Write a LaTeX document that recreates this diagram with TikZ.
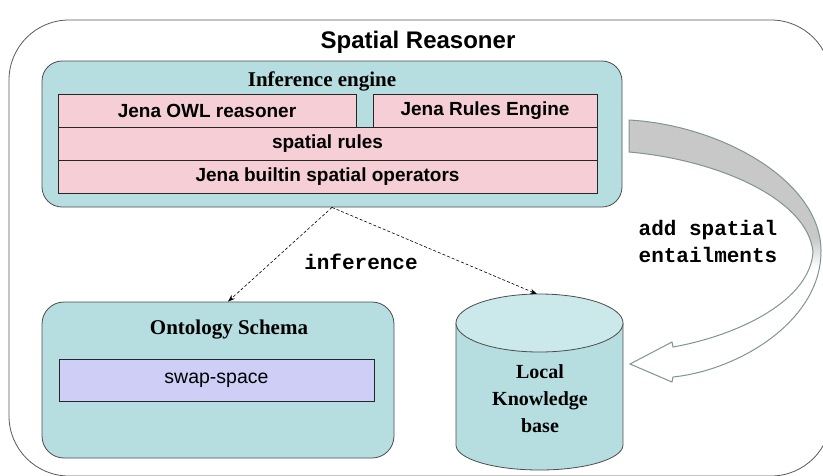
\documentclass[tikz,border=0pt]{standalone}
\usepackage{fontspec}
\setmainfont{Liberation Serif}
\setsansfont{Liberation Sans}
\setmonofont{Liberation Mono}
\usetikzlibrary{arrows.meta}
\definecolor{tealfill}{RGB}{182,221,223}
\definecolor{cyltop}{RGB}{203,233,235}
\definecolor{pinkcell}{RGB}{245,206,214}
\definecolor{swapfill}{RGB}{206,206,246}
\definecolor{arrowgray}{RGB}{200,200,200}
\definecolor{arrowline}{RGB}{128,148,148}
\tikzset{
  cell/.style={draw=black!85, fill=pinkcell, minimum height=33, inner sep=0pt, font=\sffamily\bfseries\fontsize{19}{21}\selectfont},
  tealbox/.style={draw=black!70, fill=tealfill, rounded corners=20, line width=0.8pt, inner sep=0pt},
  serifbold/.style={font=\bfseries\fontsize{21}{27}\selectfont, align=center},
  monolabel/.style={font=\ttfamily\bfseries\fontsize{21}{27}\selectfont, align=center},
  infer/.style={dashed, dash pattern=on 3pt off 2pt, line width=0.6pt, -{Stealth[length=7pt,width=5pt]}}
}
\begin{document}
\begin{tikzpicture}[x=1pt, y=-1pt]
	\useasboundingbox (0,0) rectangle (823,475);
	\clip (0,0) rectangle (823,475);
	
	\draw [black!65, line width=0.8pt, rounded corners=60] (9,20) rectangle (831,476);
	\node (title) [font=\sffamily\bfseries\fontsize{24}{28}\selectfont] at (418,42) {Spatial Reasoner};
	
	\node (engine) [tealbox, minimum width=580, minimum height=146] at (332,134) {};
	\node (enginelabel) [serifbold] at (322,81) {Inference engine};
	\node (owl) [cell, minimum width=298] at (207,110.5) {Jena OWL reasoner};
	\node (rules) [cell, minimum width=224] at (485,110.5) {Jena Rules Engine};
	\node (spatial) [cell, minimum width=539] at (327.5,143.5) {spatial rules};
	\node (builtin) [cell, minimum width=539] at (327.5,176.5) {Jena builtin spatial operators};
	
	\node (onto) [tealbox, minimum width=352, minimum height=156, rounded corners=22] at (218,380) {};
	\node (ontolabel) [serifbold] at (229,330) {Ontology Schema};
	\node (swap) [draw=black!85, fill=swapfill, minimum width=315, minimum height=42, font=\sffamily\fontsize{19.5}{22}\selectfont] at (216.5,380) {swap-space};
	
	\fill [tealfill] (456,323) rectangle (623,445);
	\fill [tealfill] (539.5,445) ellipse [x radius=83.5, y radius=25];
	\draw [black!70, line width=0.8pt] (456,323) -- (456,445) arc [start angle=180, end angle=0, x radius=83.5, y radius=25] -- (623,323);
	\draw [black!70, line width=0.8pt, fill=cyltop] (539.5,323) ellipse [x radius=83.5, y radius=29];
	\coordinate (kbtop) at (537,294);
	\node (kb) [serifbold, font=\bfseries\fontsize{20}{27}\selectfont] at (540,399) {Local\\Knowledge\\base};
	
	\draw [infer] (engine.south) -- ([xshift=10]onto.north);
	\draw [infer] (engine.south) -- (kbtop);
	\node (inflabel) [monolabel] at (361,262) {inference};
	
	\draw [arrowline, line width=1pt, fill=white, path picture={
		\fill [arrowgray] (600,100) rectangle (830,238);
		\shade [top color=arrowgray, bottom color=white] (600,238) rectangle (830,268);
	}]
	(629,120) .. controls (720,125) and (820,180) .. (821,250)
	.. controls (822,320) and (740,370) .. (673,377)
	-- (672,382) -- (630,364) -- (672,342) -- (673,347)
	.. controls (740,335) and (810,300) .. (813,252)
	.. controls (808,200) and (720,160) .. (629,152) -- cycle;
	\node (entail) [monolabel] at (708,241) {add spatial\\entailments};
\end{tikzpicture}
\end{document}
